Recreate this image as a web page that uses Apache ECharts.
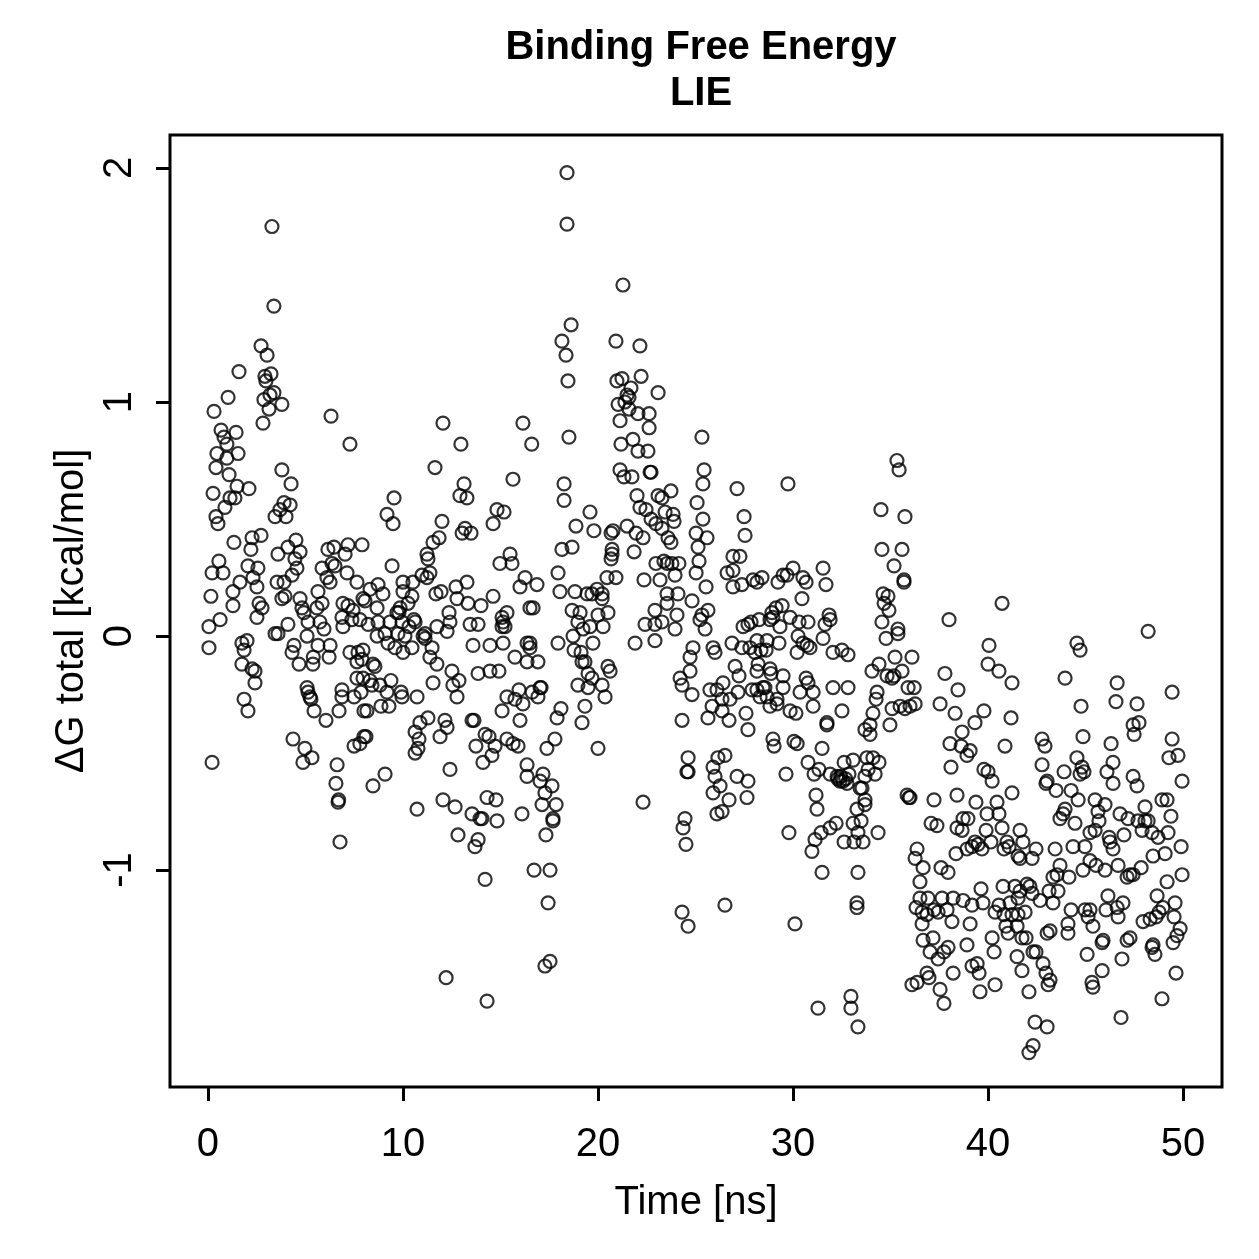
<!DOCTYPE html>
<html>
<head>
<meta charset="utf-8">
<title>Binding Free Energy LIE</title>
<script src="https://cdn.jsdelivr.net/npm/echarts@6.0.0/dist/echarts.min.js"></script>
<style>
  html, body { margin: 0; padding: 0; background: #fff; }
  #chart { width: 1259px; height: 1259px; }
</style>
</head>
<body>
<div id="chart"></div>
<script>
// [time (ns), dG total (kcal/mol)], grouped by time window
const pts00to08 = [
  [3.28,1.75],[3.38,1.41],[2.72,1.24],[3.03,1.20],[1.59,1.13],
  [2.92,1.11],[3.23,1.12],[2.97,1.09],[3.38,1.04],[3.18,1.03],[2.87,1.01],[3.79,0.99],[3.13,0.97],[2.82,0.91],
  [1.03,1.02],[6.31,0.94],[7.28,0.82],[0.31,0.96],
  [0.67,0.88],[0.82,0.85],[0.97,0.82],[1.44,0.87],[1.54,0.78],[0.46,0.78],[0.97,0.76],[0.41,0.72],
  [1.08,0.69],[1.49,0.64],[2.1,0.63],[0.26,0.61],[1.13,0.59],[1.38,0.59],[0.87,0.55],[0.41,0.51],[0.51,0.48],
  [3.79,0.71],[4.26,0.65],[3.44,0.51],[3.69,0.54],[3.9,0.57],[4.21,0.56],[4.0,0.51],
  [1.33,0.40],[2.26,0.42],[2.72,0.43],[2.2,0.37],[3.59,0.35],[4.1,0.38],[4.51,0.41],[4.72,0.36],[6.15,0.37],
  [6.46,0.38],[7.18,0.39],[7.03,0.35],[7.9,0.39],
  [0.56,0.32],[0.21,0.27],[0.77,0.27],[2.05,0.30],[2.56,0.29],[2.31,0.25],[4.46,0.33],[4.56,0.29],[4.31,0.26],
  [5.85,0.29],[6.36,0.31],[6.51,0.30],[7.13,0.27],[7.64,0.23],[1.64,0.23],[1.28,0.19],[2.51,0.21],[3.54,0.23],
  [3.9,0.23],[0.15,0.17],
  [6.1,0.25],[6.26,0.23],[5.64,0.19],[5.85,0.14],[6.92,0.14],[7.18,0.13],[7.44,0.11],[7.95,0.16],[1.28,0.13],
  [2.62,0.14],[2.77,0.12],[2.51,0.08],[0.62,0.07],[0.05,0.04],[3.79,0.16],[3.95,0.17],[4.72,0.16],[4.82,0.12],
  [4.92,0.10],[5.59,0.12],[6.87,0.08],[7.38,0.07],[7.79,0.07],
  [0.05,-0.05],[1.74,-0.03],[2.0,-0.02],[1.85,-0.06],[1.74,-0.12],[2.26,-0.14],[2.41,-0.15],[2.41,-0.2],
  [1.85,-0.27],[2.05,-0.32],[0.21,-0.54],
  [3.44,0.01],[3.59,0.01],[4.1,0.05],[4.41,-0.04],[4.31,-0.07],[4.67,-0.12],[5.08,0.0],[5.13,0.06],[5.74,0.06],
  [5.95,0.03],[5.64,-0.04],[6.26,-0.04],[6.21,-0.09],[5.38,-0.12],[5.4,-0.09],[6.92,0.04],[7.28,-0.07],
  [7.69,-0.07],[7.64,-0.11],[7.64,-0.18],[7.95,-0.18],[7.85,-0.24],[7.49,-0.26],[8.0,-0.32],[6.87,-0.23],
  [6.87,-0.26],[6.72,-0.32],[6.05,-0.36],
  [5.08,-0.22],[5.13,-0.24],[5.23,-0.26],[5.28,-0.27],[5.44,-0.32],
  [4.36,-0.44],[4.97,-0.48],[5.33,-0.52],[4.87,-0.54],[6.62,-0.55],[6.56,-0.63],[6.67,-0.71],[6.7,-0.70],
  [6.77,-0.88],[7.49,-0.47],[8.0,-0.43]
];

const pts08to16 = [
  [12.05,0.91],[16.15,0.91],[16.6,0.82],[12.97,0.82],[11.64,0.72],[13.13,0.65],[12.92,0.60],[13.28,0.59],
  [15.64,0.67],[9.54,0.59],[9.18,0.52],[9.49,0.48],[12.0,0.49],[14.82,0.54],[15.18,0.53],[14.62,0.48],
  [13.18,0.46],[13.03,0.44],[13.49,0.44],
  [11.85,0.42],[11.54,0.40],[11.23,0.35],[11.28,0.33],[9.44,0.30],[15.49,0.35],[15.59,0.31],[14.97,0.31],
  [16.26,0.25],[16.0,0.21],[10.97,0.26],[11.38,0.27],[11.23,0.25],
  [10.0,0.23],[10.51,0.23],[10.0,0.19],[10.46,0.17],[10.26,0.14],[9.85,0.12],[9.69,0.10],[10.56,0.07],
  [9.79,0.10],[8.72,0.22],[8.97,0.18],[8.31,0.2],[8.05,0.15],[8.67,0.12],
  [11.69,0.18],[11.95,0.19],[12.72,0.21],[13.28,0.23],[12.77,0.16],[13.33,0.14],[14.0,0.13],[14.62,0.17],
  [12.36,0.10],[15.33,0.10],[15.08,0.08],[15.13,0.06],[16.51,0.12],
  [8.21,0.05],[8.72,0.06],[9.33,0.06],[9.95,0.06],[10.31,0.04],[10.62,0.06],[11.13,0.01],[11.74,0.04],
  [12.26,0.02],[12.41,0.06],[13.44,0.05],[13.85,0.05],[15.08,0.04],[15.23,0.04],
  [8.67,0.0],[9.08,0.01],[9.23,-0.03],[9.59,-0.05],[9.74,0.01],[10.1,0.0],[10.0,-0.07],[10.46,-0.05],
  [11.03,0.0],[11.13,-0.01],[11.49,-0.05],[11.38,-0.09],[11.74,-0.12],[13.59,-0.04],[14.46,-0.04],
  [15.13,-0.03],[15.74,-0.09],[16.36,-0.03],[16.36,-0.11],
  [7.95,-0.06],[7.9,-0.10],[8.46,-0.12],[8.56,-0.13],[8.31,-0.19],[8.41,-0.21],[8.82,-0.21],[9.38,-0.19],
  [9.18,-0.24],[9.9,-0.24],[9.95,-0.26],[10.72,-0.26],[8.15,-0.32],[8.87,-0.30],[9.28,-0.30],[11.54,-0.20],
  [12.51,-0.15],[12.87,-0.19],[12.56,-0.21],[12.77,-0.26],[13.85,-0.16],[14.46,-0.15],[14.92,-0.15],
  [15.33,-0.26],[15.95,-0.23],[15.74,-0.27],[16.15,-0.29],[15.08,-0.32],[16.0,-0.36],
  [10.62,-0.41],[10.87,-0.37],[11.28,-0.35],[10.82,-0.44],[10.77,-0.48],[10.62,-0.50],[12.15,-0.36],
  [12.26,-0.39],[11.9,-0.43],[13.54,-0.36],[13.64,-0.36],[13.74,-0.47],[14.21,-0.42],[14.41,-0.43],
  [14.72,-0.47],[14.56,-0.51],[14.1,-0.54],[15.33,-0.44],[15.64,-0.46],[15.9,-0.47],[16.36,-0.55],
  [16.36,-0.60],[8.1,-0.43],[7.79,-0.46],
  [9.08,-0.59],[8.46,-0.64],[10.72,-0.74],[12.41,-0.57],[12.05,-0.70],[12.67,-0.73],[13.54,-0.76],
  [13.95,-0.78],[14.05,-0.78],[14.82,-0.79],[14.31,-0.69],[14.77,-0.70],[16.1,-0.76],[12.82,-0.85],
  [13.85,-0.87],[13.69,-0.90],[14.21,-1.04],[12.21,-1.46],[14.31,-1.56]
];

const pts16to25 = [
  [18.41,1.98],[18.41,1.76],[21.28,1.50],[18.62,1.33],[18.15,1.26],[18.36,1.20],[18.46,1.09],[20.92,1.26],
  [22.15,1.24],
  [20.97,1.09],[21.23,1.10],[22.21,1.11],[21.69,1.06],[21.49,1.03],[21.59,1.02],[21.03,0.99],[21.38,1.0],
  [21.59,0.97],[22.05,0.95],[22.62,0.95],[23.08,1.04],
  [21.13,0.92],[22.62,0.89],[21.18,0.82],[21.79,0.84],[22.05,0.79],[22.56,0.79],[18.51,0.85],
  [21.13,0.71],[21.33,0.68],[21.74,0.68],[22.72,0.70],[22.67,0.70],[18.26,0.65],[18.26,0.58],
  [19.59,0.53],[18.87,0.47],[19.79,0.45],[18.15,0.37],[18.67,0.38],
  [22.0,0.60],[23.08,0.60],[23.28,0.59],[23.74,0.62],[22.15,0.55],[22.46,0.54],[22.72,0.50],[23.44,0.53],
  [23.85,0.52],[23.9,0.49],[22.97,0.48],[23.28,0.46],[23.59,0.42],[23.74,0.40],
  [20.77,0.45],[20.67,0.44],[21.49,0.47],[21.95,0.44],[22.31,0.42],[20.72,0.37],[20.67,0.33],[20.72,0.35],
  [21.85,0.36],[20.46,0.25],[20.92,0.25],
  [22.97,0.31],[23.38,0.32],[23.54,0.31],[23.79,0.31],[24.15,0.31],[23.95,0.26],[22.36,0.24],[23.18,0.24],
  [17.95,0.27],[18.05,0.19],[18.82,0.19],[16.87,0.22],[16.67,0.12],[18.67,0.11],[19.08,0.10],[19.44,0.18],
  [19.69,0.18],[19.95,0.20],[20.21,0.18],[20.21,0.16],[20.0,0.09],[20.51,0.10],[18.97,0.06],[19.59,0.04],
  [20.26,0.04],[19.23,0.03],
  [22.92,0.11],[23.54,0.18],[24.1,0.18],[23.54,0.14],[24.05,0.09],[24.82,0.15],[22.41,0.05],[22.92,0.05],
  [23.28,0.06],[23.95,0.03],
  [18.72,0.0],[18.77,-0.06],[19.13,-0.07],[19.18,-0.11],[19.33,-0.11],[19.49,-0.16],[19.69,-0.18],
  [18.97,-0.21],[19.49,-0.22],[20.21,-0.21],[20.51,-0.13],[20.62,-0.15],[20.36,-0.26],[19.33,-0.30],
  [19.18,-0.37],[19.74,-0.03],[21.9,-0.03],[22.92,-0.02],
  [16.51,-0.03],[16.51,-0.05],[16.92,-0.11],[17.95,-0.03],
  [16.62,-0.24],[17.03,-0.22],[17.08,-0.22],[16.92,-0.26],[18.1,-0.31],[17.9,-0.35],[17.79,-0.44],
  [17.38,-0.48],[20.0,-0.48],
  [17.18,-0.59],[17.03,-0.62],[17.64,-0.64],[17.28,-0.67],[17.13,-0.72],[17.85,-0.72],[17.69,-0.78],
  [17.69,-0.79],[17.33,-0.85],
  [16.72,-1.0],[17.54,-1.0],[17.44,-1.14],[17.28,-1.41],[17.54,-1.39],[22.31,-0.71],
  [24.31,-0.36],[24.21,-0.18],[24.31,-0.21],[24.72,-0.09],[24.72,-0.15],[24.82,-0.25],[24.87,-0.05],
  [24.62,-0.52],[24.56,-0.58],[24.62,-0.58],[24.46,-0.78],[24.36,-0.82],[24.51,-0.89],[24.31,-1.18],
  [24.62,-1.24]
];

const pts25to33 = [
  [25.33,0.85],[25.44,0.71],[25.38,0.65],[27.13,0.63],[29.74,0.65],[25.08,0.57],[25.38,0.50],[27.49,0.51],
  [25.03,0.44],[25.59,0.42],[25.13,0.38],[27.54,0.43],[25.18,0.32],[25.03,0.27],[26.92,0.34],[27.28,0.34],
  [26.62,0.27],[26.92,0.28],[25.54,0.21],[26.92,0.21],[27.38,0.22],[27.95,0.24],[28.15,0.23],[28.41,0.25],
  [29.23,0.23],[29.49,0.26],[29.69,0.26],[30.0,0.29],[30.51,0.25],[30.67,0.23],[31.54,0.29],[31.69,0.22],
  [30.46,0.16],[31.85,0.09],[25.64,0.11],[25.33,0.09],[25.49,0.03],
  [28.92,0.10],[29.13,0.12],[29.44,0.13],[28.97,0.08],[27.85,0.06],[28.26,0.07],[27.44,0.04],[29.85,0.08],
  [30.31,0.06],[30.77,0.06],[31.64,0.05],[29.33,0.04],
  [25.23,0.07],[27.69,0.05],[28.82,0.07],[31.54,-0.01],[31.9,0.07],
  [25.9,-0.05],[26.0,-0.07],[26.87,-0.03],[27.38,-0.05],[27.79,-0.05],[28.05,-0.07],[28.15,-0.02],
  [28.36,-0.06],[28.62,-0.06],[28.67,-0.02],[29.28,-0.03],[30.21,-0.07],[30.26,0.0],[30.51,-0.03],
  [30.87,-0.05],[32.05,-0.07],[32.51,-0.06],[32.82,-0.08],[30.72,-0.04],
  [27.03,-0.13],[27.23,-0.17],[28.21,-0.12],[28.15,-0.15],[28.82,-0.14],[28.87,-0.16],[29.49,-0.17],
  [29.49,-0.22],[30.67,-0.18],[30.77,-0.2],[31.03,-0.24],[31.03,-0.30],[30.36,-0.24],[32.05,-0.22],
  [32.82,-0.22],[32.51,-0.32],[31.74,-0.37],[31.74,-0.38],
  [25.74,-0.23],[26.1,-0.23],[26.41,-0.20],[26.36,-0.27],[26.77,-0.27],[27.18,-0.24],[25.85,-0.30],
  [25.64,-0.35],[26.36,-0.32],[26.72,-0.36],[27.59,-0.33],[27.69,-0.40],[27.9,-0.23],[28.15,-0.23],
  [28.31,-0.26],[28.46,-0.22],[28.67,-0.26],[28.56,-0.22],[28.82,-0.30],[29.18,-0.27],[29.18,-0.29],
  [29.85,-0.32],[30.15,-0.33],[28.97,-0.44],[29.03,-0.47],[30.05,-0.45],[30.21,-0.46],[31.49,-0.48],
  [26.15,-0.52],[26.51,-0.51],[25.9,-0.56],[26.0,-0.60],[26.26,-0.64],[25.9,-0.67],[26.72,-0.70],
  [27.13,-0.60],[27.69,-0.62],[27.64,-0.69],[26.36,-0.75],[26.1,-0.76],[29.64,-0.59],
  [30.77,-0.54],[31.08,-0.59],[31.33,-0.57],[31.9,-0.59],[32.26,-0.60],[32.41,-0.62],[32.56,-0.62],
  [32.77,-0.63],[32.62,-0.54],[33.08,-0.53],[32.87,-0.59],[33.44,-0.65],[31.18,-0.68],[31.23,-0.74],
  [32.3,-0.61],[32.45,-0.60],[32.7,-0.61],
  [29.79,-0.84],[30.97,-0.92],[31.13,-0.87],[31.44,-0.84],[31.9,-0.82],[32.21,-0.80],[32.62,-0.88],
  [33.08,-0.80],[33.13,-0.88],[33.28,-0.74],[31.49,-1.01],[33.33,-1.01],
  [26.51,-1.15],[30.1,-1.23],
  [31.28,-1.59],[32.97,-1.54],[32.97,-1.59],[33.33,-1.67],[33.28,-1.14],[33.28,-1.16]
];

const pts33to42 = [
  [35.33,0.75],[35.44,0.71],[34.51,0.54],[35.74,0.51],[34.56,0.37],[35.59,0.37],[35.18,0.30],[35.69,0.24],
  [35.69,0.23],[34.62,0.18],[34.87,0.17],[34.67,0.14],[34.92,0.11],[34.56,0.06],[35.38,0.03],[40.72,0.14],
  [38.0,0.07],
  [34.77,-0.01],[35.38,0.01],[35.23,-0.09],[36.1,-0.09],[35.59,-0.15],[34.05,-0.15],[34.41,-0.12],
  [34.82,-0.17],[35.08,-0.18],[35.18,-0.17],
  [35.9,-0.22],[36.21,-0.22],[34.31,-0.24],[34.26,-0.27],[35.08,-0.31],[35.49,-0.30],[35.74,-0.31],
  [36.0,-0.30],[36.26,-0.29],[34.1,-0.33],[34.97,-0.38],[33.95,-0.38],[33.69,-0.40],[33.95,-0.42],
  [33.79,-0.52],[34.1,-0.52],[34.41,-0.54],[34.21,-0.59],[33.85,-0.57],[33.69,-0.60],[33.54,-0.65],
  [33.69,-0.70],[33.69,-0.72],[33.49,-0.79],[33.33,-0.84],[33.59,-0.88],[34.36,-0.84],
  [35.85,-0.68],[36.0,-0.69],[35.95,-0.69],[37.23,-0.70],[37.08,-0.80],[37.38,-0.81],
  [37.79,-0.16],[38.46,-0.23],[37.54,-0.29],[38.31,-0.33],[38.67,-0.41],[38.05,-0.46],[38.62,-0.47],
  [39.08,-0.49],[38.92,-0.51],[39.33,-0.37],[39.79,-0.32],[40.05,-0.04],[40.0,-0.12],[40.56,-0.15],
  [41.23,-0.20],[41.18,-0.35],[40.87,-0.47],
  [38.1,-0.56],[38.41,-0.68],[39.38,-0.71],[39.79,-0.57],[40.0,-0.58],[40.21,-0.62],[40.46,-0.71],
  [41.23,-0.67],[39.95,-0.76],[40.56,-0.76],[40.72,-0.82],[41.64,-0.83],
  [38.72,-0.78],[38.97,-0.78],[38.41,-0.82],[38.67,-0.83],[39.9,-0.83],[40.15,-0.88],[39.69,-0.91],
  [39.33,-0.88],[39.49,-0.89],[39.18,-0.90],[38.92,-0.91],[38.36,-0.93],[40.97,-0.88],[40.82,-0.91],
  [41.08,-0.90],[41.64,-0.95],[41.54,-0.94],
  [36.36,-0.91],[36.26,-0.95],[36.67,-0.99],[36.51,-1.05],[37.59,-0.99],[37.95,-1.01],
  [36.51,-1.12],[36.92,-1.12],[37.64,-1.12],[38.21,-1.12],[38.72,-1.13],[39.18,-1.15],[39.64,-1.08],
  [39.74,-1.14],[36.31,-1.16],[36.62,-1.18],[36.87,-1.19],[37.23,-1.17],[37.44,-1.18],[37.9,-1.17],
  [36.62,-1.23],[38.15,-1.22],[39.08,-1.23],[40.77,-1.07],[41.38,-1.07],[41.54,-1.12],[40.56,-1.15],
  [40.36,-1.18],[41.13,-1.14],[40.82,-1.19],[41.23,-1.19],[41.54,-1.19],[40.92,-1.24],[41.49,-1.24],
  [41.03,-1.27],[41.74,-1.29],
  [36.67,-1.30],[37.18,-1.29],[37.03,-1.35],[37.44,-1.38],[37.74,-1.35],[37.95,-1.33],[36.87,-1.44],
  [36.97,-1.46],[36.36,-1.48],[36.1,-1.49],[37.54,-1.51],[37.74,-1.57],[38.21,-1.44],[38.92,-1.32],
  [39.18,-1.41],[39.54,-1.44],[39.44,-1.40],[39.59,-1.52],[40.21,-1.29],[40.31,-1.35],[40.36,-1.49],
  [41.49,-1.37],[41.74,-1.43]
];

const pts42to50 = [
  [48.21,0.02],[44.56,-0.03],[44.72,-0.06],[43.95,-0.18],[46.62,-0.20],[46.56,-0.28],[47.64,-0.29],
  [47.44,-0.38],[47.74,-0.37],[47.49,-0.42],[49.44,-0.24],[44.77,-0.30],[44.87,-0.43],[46.31,-0.46],
  [49.44,-0.44],[49.28,-0.52],[49.74,-0.51],[49.95,-0.62],
  [42.77,-0.44],[42.92,-0.47],[42.77,-0.55],[43.9,-0.58],[44.56,-0.52],[44.82,-0.56],[44.72,-0.59],
  [44.92,-0.58],[46.1,-0.58],[46.41,-0.54],[46.41,-0.63],[47.44,-0.60],[47.64,-0.64],[42.97,-0.63],
  [43.03,-0.62],[43.49,-0.66],[44.26,-0.66],[44.62,-0.70],[45.49,-0.70],[45.64,-0.75],[46.0,-0.72],
  [45.69,-0.79],[43.85,-0.76],[43.69,-0.78],[43.95,-0.74],[44.46,-0.80],
  [48.92,-0.70],[49.18,-0.70],[48.05,-0.73],[49.38,-0.77],[46.77,-0.76],[47.18,-0.78],[47.69,-0.79],
  [48.05,-0.79],[48.21,-0.79],[47.9,-0.83],[48.41,-0.84],[48.72,-0.86],[49.23,-0.84],[49.9,-0.90],
  [49.08,-0.93],[48.46,-0.94],[46.97,-0.85],[46.21,-0.86],[46.26,-0.88],[46.41,-0.91],[45.49,-0.83],
  [45.23,-0.84],[44.97,-0.90],[44.36,-0.90],[43.44,-0.91],[45.23,-0.96],[45.54,-0.98],[46.0,-1.0],
  [44.87,-1.0],[46.67,-0.98],[47.85,-0.99],[47.28,-1.02],[47.13,-1.03],[47.44,-1.02],[49.95,-1.02],
  [49.18,-1.05],[44.15,-1.03],[43.69,-0.98],[43.33,-1.03],[43.54,-1.02],
  [41.79,-0.88],[42.26,-0.95],[42.46,-0.91],[42.0,-1.06],[42.15,-1.07],[42.26,-1.10],[41.64,-1.09],
  [42.67,-1.13],[43.33,-1.14],[43.13,-1.09],[43.59,-1.09],[41.9,-1.18],[41.95,-1.29],[42.31,-1.35],
  [44.26,-1.17],[44.97,-1.17],[45.23,-1.17],[45.13,-1.20],[45.38,-1.24],[46.15,-1.11],[46.05,-1.17],
  [46.62,-1.16],[46.67,-1.20],[46.92,-1.14],[47.95,-1.22],[48.31,-1.21],[48.62,-1.20],[48.77,-1.18],
  [49.59,-1.14],[49.54,-1.20],[48.67,-1.11],[48.97,-1.16],[49.85,-1.25],[49.69,-1.28],[49.49,-1.31],
  [48.46,-1.32],[48.41,-1.33],[48.56,-1.36],[47.13,-1.30],[47.28,-1.29],[46.87,-1.38],[45.9,-1.30],
  [45.85,-1.31],[44.1,-1.23],[44.1,-1.27],[43.18,-1.26],[43.03,-1.27],[42.46,-1.35],[42.82,-1.40],
  [42.97,-1.44],[43.18,-1.47],[43.08,-1.49],[45.08,-1.36],[45.33,-1.48],[45.38,-1.50],[45.85,-1.43],
  [42.1,-1.52],[49.64,-1.44],[48.92,-1.55],[46.82,-1.63],[42.41,-1.65],[43.03,-1.67],[42.31,-1.75],
  [42.1,-1.78]
];

const xTicks = [0, 10, 20, 30, 40, 50];
const yTicks = [-1, 0, 1, 2];

const points = [].concat(pts00to08, pts08to16, pts16to25, pts25to33, pts33to42, pts42to50);

const font = 'Liberation Sans, Arial, Helvetica, sans-serif';

const chart = echarts.init(document.getElementById('chart'));

chart.setOption({
  animation: false,
  backgroundColor: '#fff',
  title: {
    text: 'Binding Free Energy\nLIE',
    left: 696,
    top: 20,
    textAlign: 'center',
    textStyle: {
      fontFamily: font,
      fontWeight: 'bold',
      fontSize: 40,
      lineHeight: 46,
      color: '#000'
    }
  },
  grid: {
    left: 170,
    right: 37,
    top: 135,
    bottom: 172,
    show: true,
    borderColor: '#000',
    borderWidth: 3,
    backgroundColor: 'transparent'
  },
  xAxis: {
    type: 'value',
    min: -1.948,
    max: 51.998,
    splitLine: { show: false },
    axisLine: { show: false, onZero: false },
    axisTick: {
      show: true,
      customValues: xTicks,
      length: 14,
      lineStyle: { color: '#000', width: 3 }
    },
    axisLabel: {
      customValues: xTicks,
      margin: 38,
      fontFamily: font,
      fontSize: 40,
      color: '#000'
    },
    name: 'Time [ns]',
    nameLocation: 'middle',
    nameGap: 96,
    nameTextStyle: { fontFamily: font, fontSize: 40, color: '#000' }
  },
  yAxis: {
    type: 'value',
    min: -1.927,
    max: 2.141,
    splitLine: { show: false },
    axisLine: { show: false, onZero: false },
    axisTick: {
      show: true,
      customValues: yTicks,
      length: 14,
      lineStyle: { color: '#000', width: 3 }
    },
    axisLabel: {
      customValues: yTicks,
      rotate: 90,
      margin: 30,
      fontFamily: font,
      fontSize: 40,
      color: '#000',
      formatter: v => String(v)
    },
    name: 'ΔG total [kcal/mol]',
    nameLocation: 'middle',
    nameGap: 72,
    nameRotate: 90,
    nameTextStyle: { fontFamily: font, fontSize: 40, color: '#000' }
  },
  series: [{
    type: 'scatter',
    data: points,
    symbol: 'circle',
    symbolSize: 13,
    itemStyle: {
      color: 'rgba(0,0,0,0)',
      borderColor: '#000',
      borderWidth: 2.2
    },
    emphasis: { disabled: true }
  }]
});
</script>
</body>
</html>
